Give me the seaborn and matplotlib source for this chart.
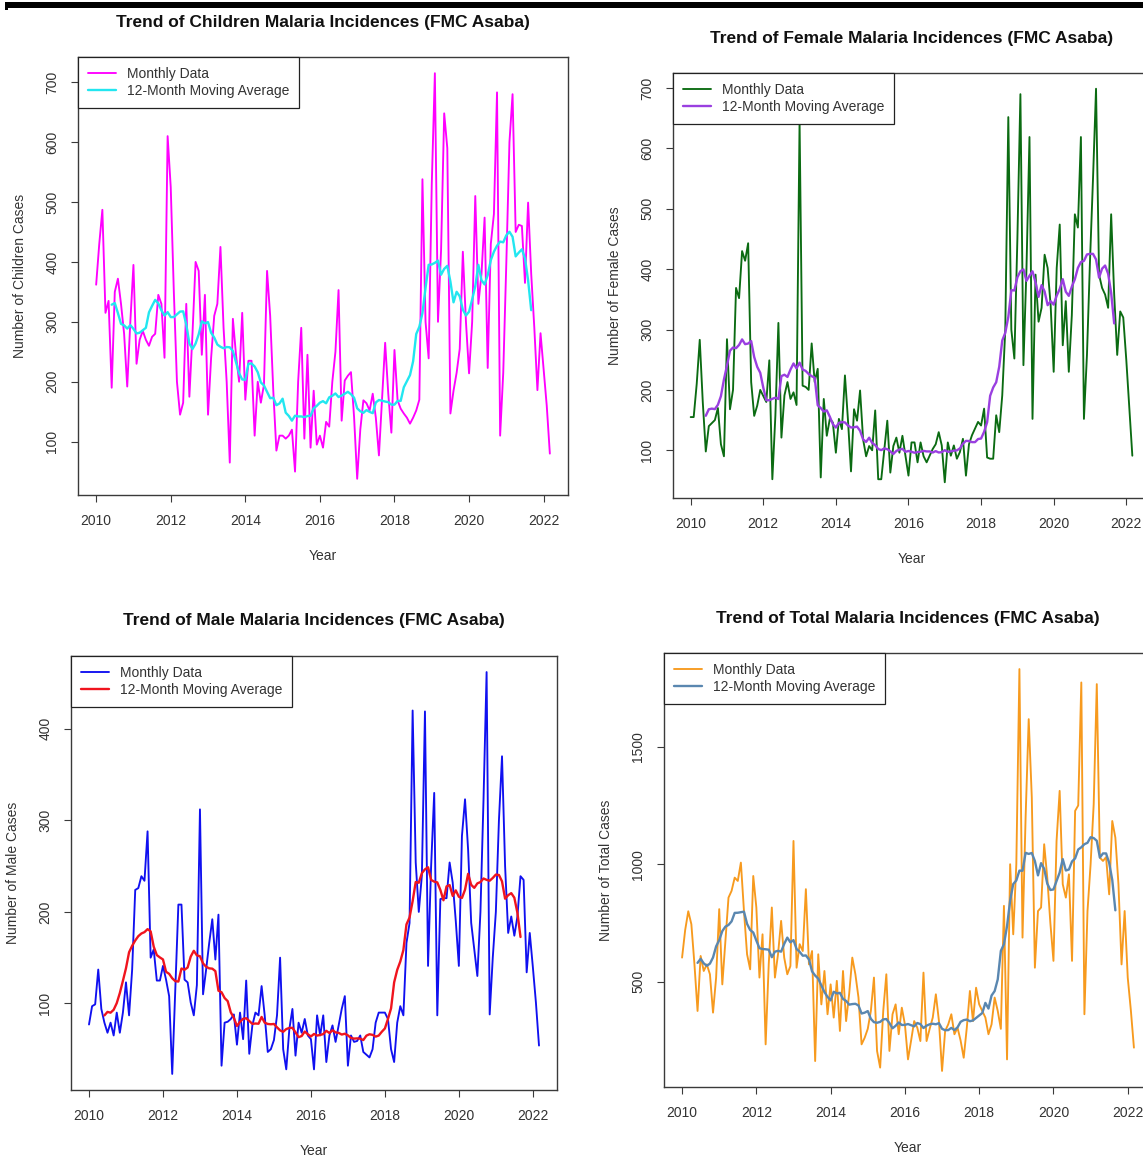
import numpy as np
import pandas as pd
import matplotlib
matplotlib.use("Agg")
import matplotlib.pyplot as plt
from matplotlib.patches import Rectangle
import seaborn as sns

# ---------------- data (monthly, Jan 2010 - Mar 2022) ----------------
children = [
    362, 430, 487, 315, 335, 190, 350, 372, 330, 280, 192, 300,
    395, 230, 270, 285, 270, 260, 275, 280, 345, 330, 240, 610,
    525, 350, 200, 145, 165, 330, 175, 280, 400, 385, 245, 345,
    145, 240, 310, 330, 425, 290, 200, 65, 305, 245, 200, 315,
    170, 235, 235, 110, 200, 165, 195, 385, 310, 185, 85, 110,
    110, 105, 110, 120, 50, 200, 290, 105, 245, 90, 185, 95,
    110, 90, 133, 125, 200, 250, 353, 135, 202, 210, 216, 141,
    38, 120, 169, 164, 152, 180, 140, 77, 170, 265, 180, 115,
    253, 169, 155, 147, 140, 130, 140, 152, 170, 538, 300, 239,
    530, 715, 300, 420, 648, 590, 147, 185, 215, 255, 417, 300,
    214, 300, 510, 330, 380, 474, 223, 430, 480, 683, 110, 215,
    400, 600, 680, 450, 462, 460, 365, 499, 380, 290, 186, 281,
    220, 160, 80,
]
female = [
    155, 155, 210, 283, 180, 98, 140, 145, 150, 170, 110, 90,
    284, 168, 200, 369, 352, 430, 414, 443, 213, 157, 174, 200,
    190, 180, 249, 52, 157, 311, 121, 191, 213, 185, 196, 175,
    645, 207, 205, 200, 277, 213, 235, 55, 185, 124, 152, 146,
    96, 152, 135, 224, 150, 65, 168, 149, 199, 118, 90, 107,
    100, 166, 52, 52, 100, 149, 63, 107, 121, 96, 124, 91,
    58, 113, 113, 80, 113, 90, 80, 91, 102, 110, 130, 108,
    47, 113, 91, 108, 86, 97, 119, 58, 110, 125, 136, 147,
    141, 169, 88, 86, 86, 158, 130, 191, 300, 652, 300, 252,
    450, 690, 241, 400, 619, 152, 391, 313, 336, 424, 402, 340,
    230, 402, 474, 274, 347, 230, 324, 491, 469, 619, 152, 258,
    413, 550, 699, 391, 369, 358, 336, 491, 358, 258, 330, 320,
    250, 170, 91,
]
male = [
    77, 97, 99, 137, 94, 79, 68, 79, 65, 90, 68, 90,
    123, 87, 137, 224, 226, 239, 234, 288, 150, 159, 125, 125,
    141, 126, 108, 23, 116, 208, 208, 126, 123, 101, 87, 120,
    312, 110, 137, 166, 192, 148, 197, 32, 79, 80, 83, 88,
    55, 90, 61, 125, 45, 76, 90, 87, 119, 87, 47, 50,
    60, 87, 150, 50, 28, 72, 94, 43, 79, 68, 83, 65,
    61, 28, 87, 65, 87, 36, 65, 76, 58, 76, 94, 108,
    32, 65, 58, 59, 65, 47, 44, 41, 50, 79, 90, 90,
    90, 83, 50, 36, 79, 97, 87, 166, 188, 420, 254, 200,
    240, 419, 141, 250, 330, 87, 214, 215, 215, 254, 232, 190,
    141, 283, 323, 268, 188, 159, 130, 200, 323, 462, 88, 150,
    200, 300, 370, 250, 177, 195, 174, 195, 239, 235, 134, 177,
    140, 101, 54,
]
total = [
    603, 720, 800, 745, 574, 376, 610, 546, 574, 532, 369, 518,
    809, 489, 674, 858, 887, 943, 929, 1007, 801, 617, 553, 950,
    816, 518, 702, 234, 574, 816, 518, 617, 759, 603, 532, 567,
    1099, 560, 660, 631, 894, 574, 631, 163, 617, 404, 546, 362,
    489, 348, 504, 291, 546, 333, 450, 603, 532, 433, 234, 262,
    300, 376, 518, 206, 135, 376, 532, 206, 362, 404, 277, 390,
    319, 170, 250, 333, 305, 248, 539, 248, 300, 348, 447, 333,
    121, 291, 319, 362, 277, 305, 250, 177, 305, 461, 333, 475,
    404, 376, 348, 277, 319, 433, 376, 300, 823, 170, 1000, 702,
    1000, 1830, 688, 1200, 1617, 1284, 560, 801, 816, 1085, 943, 750,
    589, 1099, 1312, 915, 858, 957, 589, 1227, 1250, 1773, 362, 801,
    1000, 1255, 1766, 1028, 1014, 1030, 872, 1184, 1113, 915, 574, 801,
    518, 380, 220,
]

START_YEAR = 2010
year_ticks = [2010, 2012, 2014, 2016, 2018, 2020, 2022]
children_ticks = [100, 200, 300, 400, 500, 600, 700]
female_ticks = [100, 200, 300, 400, 500, 600, 700]
male_ticks = [100, 200, 300, 400]
total_ticks = [500, 1000, 1500]
group_names = ["Children", "Female", "Male", "Total"]
legend_labels = ["Monthly Data", "12-Month Moving Average"]

# ---------------- style ----------------
sns.set_style("white")
plt.rcParams["font.family"] = ["Liberation Sans", "DejaVu Sans"]

W, H = 1143, 1158
fig = plt.figure(figsize=(W / 100, H / 100), dpi=100)
fig.patch.set_facecolor("white")


def moving_average_12(values):
    # centred 12-month moving average (R stats::filter, sides = 2)
    s = pd.Series(values, dtype=float)
    return s.rolling(12).mean().shift(-6)


# (series, ticks, monthly colour, MA colour, box in pixels: left, top, right, bottom)
layout = [
    (children, children_ticks, "#FF00FF", "#22E6F0", (78, 57, 568, 495)),
    (female, female_ticks, "#0B6B12", "#9A3FE0", (673, 73, 1150, 498)),
    (male, male_ticks, "#1010F0", "#F0141E", (71, 656, 557, 1090)),
    (total, total_ticks, "#F79A1E", "#5A87B0", (664, 653, 1152, 1087)),
]

AX_COL = "#3a3a3a"

for name, (values, yt, c_month, c_ma, (l, t, r, b)) in zip(group_names, layout):
    n = len(values)
    years = START_YEAR + np.arange(n) / 12.0
    df = pd.DataFrame({"Year": years, "Cases": np.asarray(values, dtype=float)})
    df["MA"] = moving_average_12(values)

    ax = fig.add_axes([l / W, 1 - b / H, (r - l) / W, (b - t) / H])
    ax.set_facecolor("white")
    sns.lineplot(data=df, x="Year", y="Cases", ax=ax, color=c_month,
                 linewidth=1.35, label=legend_labels[0], sort=False)
    sns.lineplot(data=df.dropna(), x="Year", y="MA", ax=ax, color=c_ma,
                 linewidth=1.7, label=legend_labels[1], sort=False)

    x0, x1 = years[0], years[-1]
    dx = 0.04 * (x1 - x0)
    ax.set_xlim(x0 - dx, x1 + dx)
    y0, y1 = min(values), max(values)
    dy = 0.04 * (y1 - y0)
    ax.set_ylim(y0 - dy, y1 + dy)

    ax.set_xticks(year_ticks, labels=[str(v) for v in year_ticks])
    ax.set_yticks(yt, labels=[str(v) for v in yt], rotation=90, va="center")
    ax.tick_params(axis="both", direction="out", length=5, width=0.8,
                   colors=AX_COL, labelcolor="#333333", labelsize=10, pad=8.5,
                   bottom=True, left=True, top=False, right=False)
    for sp in ax.spines.values():
        sp.set_visible(True)
        sp.set_color(AX_COL)
        sp.set_linewidth(1.0)
    ax.grid(False)

    hpx = b - t
    wpx = r - l
    ax.set_xlabel("Year", fontsize=10, color="#333333", va="center")
    ax.xaxis.set_label_coords(0.5, -61 / hpx)
    ax.set_ylabel(f"Number of {name} Cases", fontsize=10, color="#333333", va="center")
    ax.yaxis.set_label_coords(-58 / wpx, 0.5)

    leg = ax.legend(loc="upper left", bbox_to_anchor=(0, 1), borderaxespad=0,
                    frameon=True, fancybox=False, shadow=False, framealpha=1,
                    edgecolor="#222222", fontsize=10, borderpad=0.7,
                    labelspacing=0.25, handlelength=2.0, handletextpad=0.8)
    leg.get_frame().set_linewidth(0.9)
    for txt in leg.get_texts():
        txt.set_color("#333333")

    fig.text((l + r) / 2 / W, 1 - (t - 35) / H,
             f"Trend of {name} Malaria Incidences (FMC Asaba)",
             ha="center", va="center", fontsize=12.5, fontweight="bold",
             color="#111111")

# thick black frame line across the top of the image
fig.add_artist(Rectangle((6 / W, 1 - 8 / H), 1.0, 6 / H,
                         transform=fig.transFigure, facecolor="black",
                         edgecolor="none"))
fig.add_artist(Rectangle((5 / W, 1 - 10 / H), 3 / W, 8 / H,
                         transform=fig.transFigure, facecolor="black",
                         edgecolor="none"))

fig.savefig("out.png", dpi=100, facecolor="white")
